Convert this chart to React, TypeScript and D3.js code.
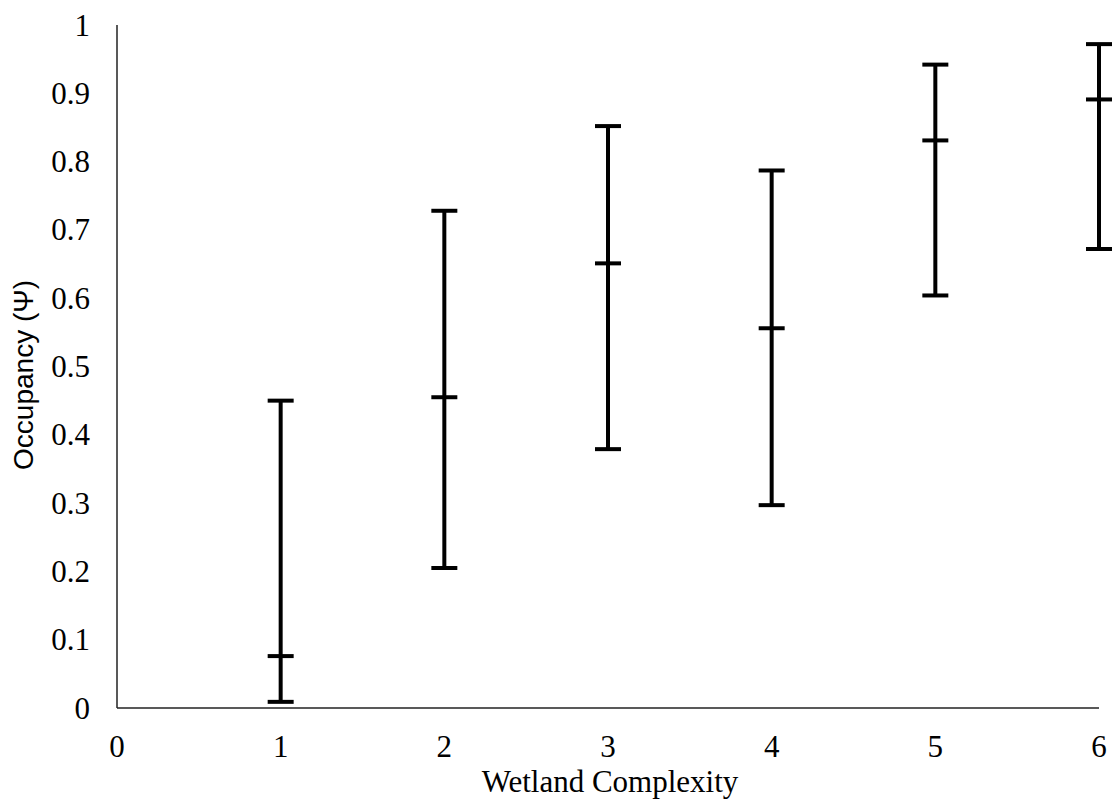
import React, { useRef, useEffect } from "react";
import * as d3 from "d3";

// wetland complexity classes and occupancy estimates with lower / upper bounds
const complexity = [1, 2, 3, 4, 5, 6];
const occupancy = [0.076, 0.455, 0.651, 0.556, 0.831, 0.891];
const lowerCI = [0.009, 0.205, 0.379, 0.297, 0.604, 0.672];
const upperCI = [0.45, 0.728, 0.852, 0.787, 0.942, 0.972];
const xTicks = [0, 1, 2, 3, 4, 5, 6];
const yTicks = [0, 0.1, 0.2, 0.3, 0.4, 0.5, 0.6, 0.7, 0.8, 0.9, 1];

const W = 1117;
const H = 807;
const serif = "'Liberation Serif', 'Times New Roman', serif";

function App() {
  const svgRef = useRef<SVGSVGElement>(null);

  useEffect(() => {
    const svg = d3.select(svgRef.current);
    svg.selectAll("*").remove();

    const x = d3.scaleLinear().domain([0, 6]).range([117, 1099]);
    const y = d3.scaleLinear().domain([0, 1]).range([708, 25]);

    // axis lines
    svg
      .append("line")
      .attr("x1", x(0))
      .attr("x2", x(0))
      .attr("y1", y(1))
      .attr("y2", y(0))
      .attr("stroke", "#222")
      .attr("stroke-width", 1.5);
    svg
      .append("line")
      .attr("x1", x(0))
      .attr("x2", x(6))
      .attr("y1", y(0))
      .attr("y2", y(0))
      .attr("stroke", "#222")
      .attr("stroke-width", 1.5);

    // tick labels
    svg
      .selectAll(".ytick")
      .data(yTicks)
      .join("text")
      .attr("class", "ytick")
      .attr("x", 90)
      .attr("y", (d) => y(d) + 10.5)
      .attr("text-anchor", "end")
      .attr("font-family", serif)
      .attr("font-size", 31)
      .attr("fill", "#000")
      .text((d) => String(d));

    svg
      .selectAll(".xtick")
      .data(xTicks)
      .join("text")
      .attr("class", "xtick")
      .attr("x", (d) => x(d))
      .attr("y", 757)
      .attr("text-anchor", "middle")
      .attr("font-family", serif)
      .attr("font-size", 31)
      .attr("fill", "#000")
      .text((d) => String(d));

    // axis titles
    svg
      .append("text")
      .attr("x", 610)
      .attr("y", 792)
      .attr("text-anchor", "middle")
      .attr("font-family", serif)
      .attr("font-size", 31)
      .text("Wetland Complexity");

    svg
      .append("text")
      .attr("transform", `translate(33, 375) rotate(-90)`)
      .attr("text-anchor", "middle")
      .attr("font-family", "'Liberation Sans', Arial, sans-serif")
      .attr("font-size", 28)
      .text("Occupancy (Ψ)");

    // error bars
    const capHalf = 13;
    const rows = complexity.map((c, i) => ({
      c,
      mid: occupancy[i],
      lo: lowerCI[i],
      hi: upperCI[i],
    }));
    const g = svg.append("g").attr("stroke", "#000").attr("stroke-width", 4);

    g.selectAll(".stem")
      .data(rows)
      .join("line")
      .attr("class", "stem")
      .attr("x1", (d) => x(d.c))
      .attr("x2", (d) => x(d.c))
      .attr("y1", (d) => y(d.lo))
      .attr("y2", (d) => y(d.hi));

    (["lo", "mid", "hi"] as const).forEach((k) => {
      g.selectAll(`.cap-${k}`)
        .data(rows)
        .join("line")
        .attr("class", `cap-${k}`)
        .attr("x1", (d) => x(d.c) - capHalf)
        .attr("x2", (d) => x(d.c) + capHalf)
        .attr("y1", (d) => y(d[k]))
        .attr("y2", (d) => y(d[k]));
    });
  }, []);

  return (
    <svg
      ref={svgRef}
      width={W}
      height={H}
      style={{ position: "absolute", left: 0, top: 0, background: "#fff" }}
    />
  );
}

export default App;
